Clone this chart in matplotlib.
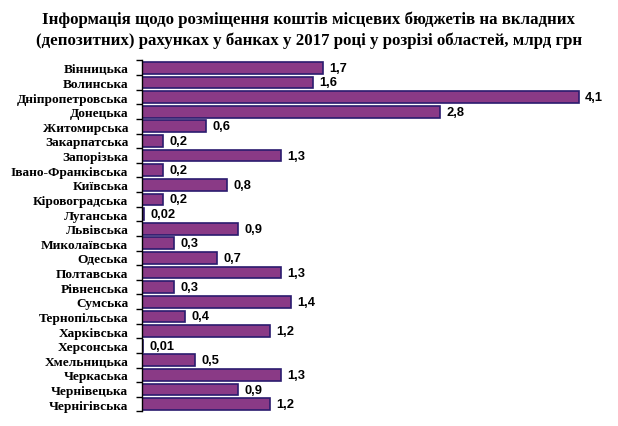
import matplotlib.pyplot as plt
import numpy as np

# Data
regions = [
    "Вінницька", "Волинська", "Дніпропетровська", "Донецька", "Житомирська",
    "Закарпатська", "Запорізька", "Івано-Франківська", "Київська", "Кіровоградська",
    "Луганська", "Львівська", "Миколаївська", "Одеська", "Полтавська",
    "Рівненська", "Сумська", "Тернопільська", "Харківська", "Херсонська",
    "Хмельницька", "Черкаська", "Чернівецька", "Чернігівська",
]
values = [1.7, 1.6, 4.1, 2.8, 0.6, 0.2, 1.3, 0.2, 0.8, 0.2, 0.02, 0.9, 0.3, 0.7,
          1.3, 0.3, 1.4, 0.4, 1.2, 0.01, 0.5, 1.3, 0.9, 1.2]
value_labels = ["1,7", "1,6", "4,1", "2,8", "0,6", "0,2", "1,3", "0,2", "0,8", "0,2",
                "0,02", "0,9", "0,3", "0,7", "1,3", "0,3", "1,4", "0,4", "1,2", "0,01",
                "0,5", "1,3", "0,9", "1,2"]
title = ("Інформація щодо розміщення коштів місцевих бюджетів на вкладних\n"
         "(депозитних) рахунках у банках у 2017 році у розрізі областей, млрд грн")

fig = plt.figure(figsize=(6.18, 4.27), dpi=100)
ax = fig.add_axes([0.23, 0.034, 0.71, 0.822])

y = np.arange(len(regions))
ax.barh(y, values, height=0.8, color="#8a3a86", edgecolor="#2b1b6e", linewidth=1.2)

for yi, v, lab in zip(y, values, value_labels):
    ax.text(v + 0.06, yi, lab, va="center", ha="left", fontsize=9.3,
            fontweight="bold", family="Liberation Sans")

ax.set_ylim(len(regions) - 0.5, -0.5)
ax.set_xlim(0, 4.12)
ax.set_yticks(y)
ax.set_yticklabels(regions, family="Liberation Serif", fontweight="bold", fontsize=9.6)
ax.tick_params(axis="y", which="major", length=0, pad=10)
ax.set_yticks(np.arange(len(regions) + 1) - 0.5, minor=True)
ax.tick_params(axis="y", which="minor", length=4, width=1, color="black")
ax.set_xticks([])
for s in ["top", "right", "bottom"]:
    ax.spines[s].set_visible(False)
ax.spines["left"].set_linewidth(1)

fig.suptitle(title, x=0.5, y=0.972, fontsize=12.2, fontweight="bold",
             family="Liberation Serif", linespacing=1.3, va="top")

plt.savefig("out.png", dpi=100)
